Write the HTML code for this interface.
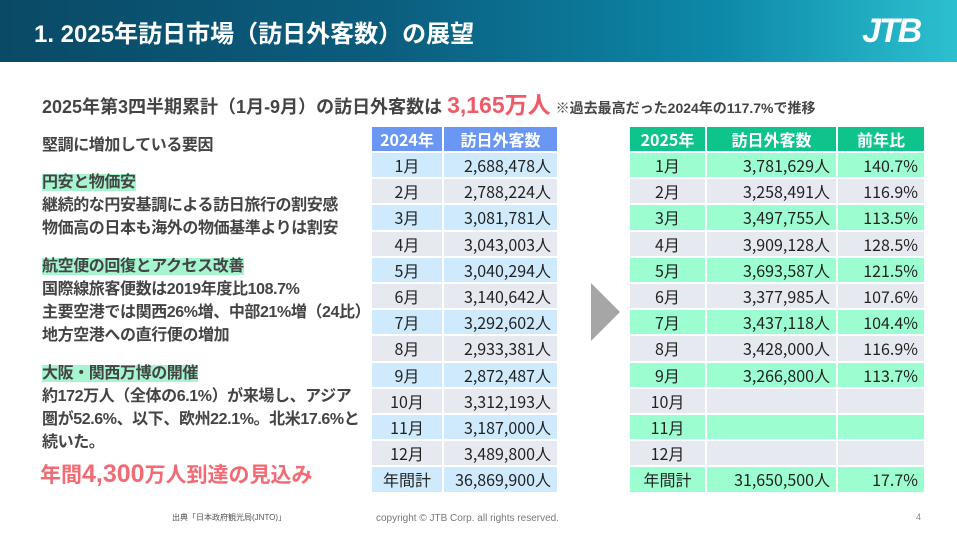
<!DOCTYPE html>
<html><head><meta charset="utf-8"><style>
*{margin:0;padding:0;box-sizing:border-box}
body{width:957px;height:535px;background:#fff;position:relative;overflow:hidden;font-family:"Liberation Sans","Noto Sans CJK JP",sans-serif;color:#333}
.hdr{position:absolute;left:0;top:0;width:957px;height:62px;background:linear-gradient(90deg,#0a4a66 0%,#0b5d7e 40%,#0d88a8 75%,#2cc0cf 100%)}
.hdr .t{position:absolute;left:34px;top:14px;font-size:24px;color:#fff;font-weight:bold;letter-spacing:0}
.jtb{position:absolute;left:862px;top:12px;font-size:34px;color:#fff;font-weight:bold;font-style:italic;letter-spacing:-2px}
.sub{position:absolute;left:42px;top:86px;font-size:18px;font-weight:bold;color:#444;white-space:nowrap}
.sub .r{color:#f05a68;font-size:23px}
.sub .s{font-size:14px}
.l{position:absolute;left:42px;font-size:16px;font-weight:bold;color:#444;white-space:nowrap;letter-spacing:-0.4px}
.hl{background:#a6f5cf}
.big{position:absolute;left:40px;top:459px;font-size:21px;font-weight:bold;color:#f26a74;white-space:nowrap}
.big b{font-size:25px}
.src{position:absolute;left:172px;top:512px;font-size:8px;color:#555}
.cp{position:absolute;left:376px;top:513px;font-size:10px;color:#777}
.pg{position:absolute;left:916px;top:512px;font-size:9px;color:#888}
.c{position:absolute;font-size:16px;color:#222;border:1px solid #fff;display:flex;align-items:center;white-space:nowrap;font-family:"Noto Sans CJK JP",sans-serif;line-height:1}
.ce{justify-content:center}.ri{justify-content:flex-end;padding-right:6px}
.hb{background:#6a97f4;color:#fff;font-weight:bold}
.hg{background:#0fc48c;color:#fff;font-weight:bold}
.tri{position:absolute;left:591px;top:283px;width:0;height:0;border-top:29px solid transparent;border-bottom:29px solid transparent;border-left:29px solid #a6a6a6}
</style></head><body>
<div class="hdr"><div class="t">1. 2025年訪日市場（訪日外客数）の展望</div><div class="jtb">JTB</div></div>
<div class="sub">2025年第3四半期累計（1月-9月）の訪日外客数は <span class="r">3,165万人</span> <span class="s">※過去最高だった2024年の117.7%で推移</span></div>
<div class="l" style="top:131px">堅調に増加している要因</div>
<div class="l" style="top:168px"><span class="hl">円安と物価安</span></div>
<div class="l" style="top:191px">継続的な円安基調による訪日旅行の割安感</div>
<div class="l" style="top:214px">物価高の日本も海外の物価基準よりは割安</div>
<div class="l" style="top:252px"><span class="hl">航空便の回復とアクセス改善</span></div>
<div class="l" style="top:275px">国際線旅客便数は2019年度比108.7%</div>
<div class="l" style="top:298px">主要空港では関西26%増、中部21%増（24比）</div>
<div class="l" style="top:321px">地方空港への直行便の増加</div>
<div class="l" style="top:359px"><span class="hl">大阪・関西万博の開催</span></div>
<div class="l" style="top:382px">約172万人（全体の6.1%）が来場し、アジア</div>
<div class="l" style="top:405px">圏が52.6%、以下、欧州22.1%。北米17.6%と</div>
<div class="l" style="top:428px">続いた。</div>
<div class="big">年間<b>4,300</b>万人到達の見込み</div>
<div class="src">出典「日本政府観光局(JNTO)」</div>
<div class="cp">copyright © JTB Corp. all rights reserved.</div>
<div class="pg">4</div>
<div class="tri"></div>
<div id="t"></div>
<script>
var a=[["1月","2,688,478人"],["2月","2,788,224人"],["3月","3,081,781人"],["4月","3,043,003人"],["5月","3,040,294人"],["6月","3,140,642人"],["7月","3,292,602人"],["8月","2,933,381人"],["9月","2,872,487人"],["10月","3,312,193人"],["11月","3,187,000人"],["12月","3,489,800人"],["年間計","36,869,900人"]];
var b=[["3,781,629人","140.7%"],["3,258,491人","116.9%"],["3,497,755人","113.5%"],["3,909,128人","128.5%"],["3,693,587人","121.5%"],["3,377,985人","107.6%"],["3,437,118人","104.4%"],["3,428,000人","116.9%"],["3,266,800人","113.7%"],["",""],["",""],["",""],["31,650,500人","17.7%"]];
var h='';
function c(x,y,w,hh,bg,cls,txt){return '<div class="c '+cls+'" style="left:'+x+'px;top:'+y+'px;width:'+w+'px;height:'+hh+'px;background:'+bg+'">'+txt+'</div>';}
h+=c(371,126,72,26,'#6a97f4','ce hb','2024年')+c(443,126,115,26,'#6a97f4','ce hb','訪日外客数');
h+=c(629,126,77,26,'#0fc48c','ce hg','2025年')+c(706,126,131,26,'#0fc48c','ce hg','訪日外客数')+c(837,126,88,26,'#0fc48c','ce hg','前年比');
for(var i=0;i<13;i++){var y=152+i*26.2;var bl=i%2==0?'#cfeafc':'#e7e9f1';var gr=(i%2==0)?'#9cfdd0':'#e7e9f1';
h+=c(371,y,72,26.2,bl,'ce',a[i][0])+c(443,y,115,26.2,bl,'ri',a[i][1]);
h+=c(629,y,77,26.2,gr,'ce',a[i][0])+c(706,y,131,26.2,gr,'ri',b[i][0])+c(837,y,88,26.2,gr,'ri',b[i][1]);}
document.getElementById('t').innerHTML=h;
</script>
</body></html>
